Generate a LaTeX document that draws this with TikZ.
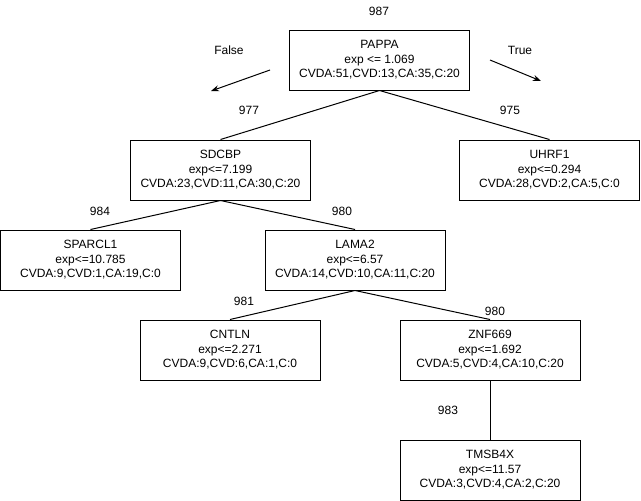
\documentclass[tikz,border=0pt]{standalone}
\usepackage{fontspec}
\setmainfont{Liberation Sans}
\usetikzlibrary{arrows.meta}
\begin{document}
\begin{tikzpicture}[x=1pt,y=-1pt,
  box/.style={draw=black,line width=1pt,minimum width=180pt,minimum height=60pt,inner sep=0pt,align=center,font=\fontsize{12}{14.5}\selectfont},
  lbl/.style={inner sep=0pt,font=\fontsize{12}{14.5}\selectfont},
  edge/.style={draw=black,line width=1pt},
  dir/.style={draw=black,line width=1pt,-{Stealth[length=8pt,width=6pt]}}]
\useasboundingbox (0,0) rectangle (641,501);
\node[box] (pappa) at (379.5,60) {PAPPA\\exp {<}= 1.069\\CVDA:51,CVD:13,CA:35,C:20};
\node[box] (sdcbp) at (220.5,170) {SDCBP\\exp{<}=7.199\\CVDA:23,CVD:11,CA:30,C:20};
\node[box] (uhrf1) at (549.5,170) {UHRF1\\exp{<}=0.294\\CVDA:28,CVD:2,CA:5,C:0};
\node[box] (sparcl) at (90.5,260) {SPARCL1\\exp{<}=10.785\\CVDA:9,CVD:1,CA:19,C:0};
\node[box] (lama) at (355,260) {LAMA2\\exp{<}=6.57\\CVDA:14,CVD:10,CA:11,C:20};
\node[box] (cntln) at (230,350) {CNTLN\\exp{<}=2.271\\CVDA:9,CVD:6,CA:1,C:0};
\node[box] (znf) at (490,350) {ZNF669\\exp{<}=1.692\\CVDA:5,CVD:4,CA:10,C:20};
\node[box] (tmsb) at (490,470) {TMSB4X\\exp{<}=11.57\\CVDA:3,CVD:4,CA:2,C:20};
\draw[edge] (pappa.south) -- (sdcbp.north);
\draw[edge] (pappa.south) -- (uhrf1.north);
\draw[edge] (sdcbp.south) -- (sparcl.north);
\draw[edge] (sdcbp.south) -- (lama.north);
\draw[edge] (lama.south) -- (cntln.north);
\draw[edge] (lama.south) -- (znf.north);
\draw[edge] (znf.south) -- (tmsb.north);
\coordinate (fa) at (270,70);
\coordinate (fb) at (211,91);
\coordinate (ta) at (490,60);
\coordinate (tb) at (541,81);
\draw[dir] (fa) -- (fb);
\draw[dir] (ta) -- (tb);
\node[lbl] (l987) at (379,11) {987};
\node[lbl] (lfalse) at (229,50) {False};
\node[lbl] (ltrue) at (520,50) {True};
\node[lbl] (l977) at (249,110) {977};
\node[lbl] (l975) at (510,110) {975};
\node[lbl] (l984) at (100,211) {984};
\node[lbl] (l980a) at (342,211) {980};
\node[lbl] (l981) at (244,301) {981};
\node[lbl] (l980b) at (495,311) {980};
\node[lbl] (l983) at (448,410) {983};
\end{tikzpicture}
\end{document}
